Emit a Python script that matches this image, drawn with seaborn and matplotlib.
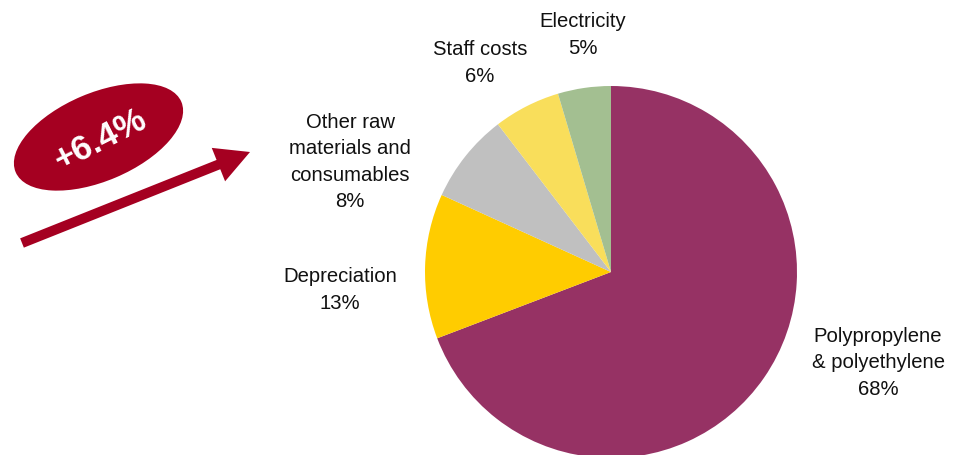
import matplotlib
matplotlib.use("Agg")
import matplotlib.pyplot as plt
from matplotlib.patches import Ellipse, FancyArrow
import seaborn as sns

# Data
categories = ["Polypropylene\n& polyethylene", "Depreciation",
              "Other raw\nmaterials and\nconsumables", "Staff costs", "Electricity"]
shares = [69.2, 12.6, 7.8, 5.8, 4.6]          # slice sizes as drawn
share_labels = ["68%", "13%", "8%", "6%", "5%"]  # printed labels
colors = ["#963264", "#FFCC00", "#C0C0C0", "#F9DE5B", "#A3BF91"]
growth_label = "+6.4%"

sns.set_theme(style="white")
plt.rcParams['font.family'] = ['Liberation Sans', 'DejaVu Sans']

W, H = 955, 455
fig = plt.figure(figsize=(W / 100, H / 100), dpi=100)
ax = fig.add_axes([0, 0, 1, 1])

cx, cy, r = 611, H - 272, 186
ax.pie(shares, colors=colors, startangle=90, counterclock=False,
       center=(cx, cy), radius=r, frame=True,
       wedgeprops=dict(linewidth=0))
ax.set_xlim(0, W)
ax.set_ylim(0, H)
ax.set_aspect('equal')
ax.axis('off')

label_pos = [(878, H - 363), (340, H - 290), (350, H - 162),
             (480, H - 63), (583, H - 35)]
for (lx, ly), cat, s in zip(label_pos, categories, share_labels):
    ax.text(lx, ly, f"{cat}\n{s}", ha='center', va='center',
            multialignment='center', fontsize=14.6, color='#111111',
            linespacing=1.5)

# Growth badge
ell = Ellipse((98.5, H - 137), width=180, height=88, angle=23,
              facecolor='#A50021', edgecolor='none')
ax.add_patch(ell)
ax.text(100, H - 140, growth_label, ha='center', va='center', rotation=27,
        fontsize=25, fontweight='bold', color='white')

arrow = FancyArrow(22, H - 243, 228, 91, width=10, head_width=36,
                   head_length=34, length_includes_head=True,
                   facecolor='#A50021', edgecolor='none')
ax.add_patch(arrow)

fig.savefig("out.png", dpi=100)
